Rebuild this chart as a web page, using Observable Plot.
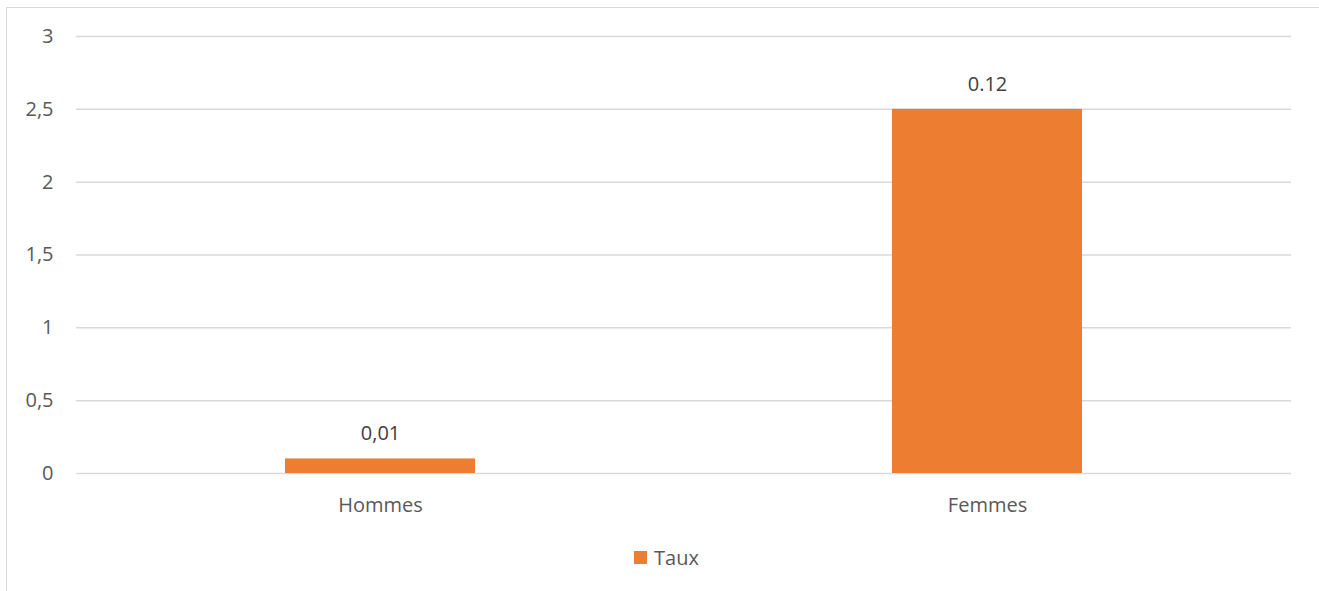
<!DOCTYPE html>
<html>
<head>
<meta charset="utf-8">
<script src="https://cdn.jsdelivr.net/npm/d3@7"></script>
<script src="https://cdn.jsdelivr.net/npm/@observablehq/plot@0.6"></script>
<style>
  html, body { margin: 0; padding: 0; background: #fff; width: 1319px; height: 591px; overflow: hidden; }
  #frame { position: absolute; left: 6px; top: 7px; width: 1400px; height: 700px;
           border-left: 1.5px solid #d9d9d9; border-top: 1.5px solid #d9d9d9; box-sizing: border-box; }
  #chart { position: absolute; left: 0; top: 0; }
  #legend { position: absolute; left: 0; top: 530px; width: 1319px; height: 55px;
            display: flex; justify-content: center; align-items: center; padding-left: 14px; box-sizing: border-box;
            font-family: "Open Sans", sans-serif; font-size: 20px; color: #595959; }
  #legend .sw { display: inline-block; width: 13px; height: 13px; background: #ED7D31; margin-right: 7px; }
</style>
</head>
<body>
<div id="frame"></div>
<div id="chart"></div>
<div id="legend"><span class="sw"></span><span>Taux</span></div>
<script>
const categories = ["Hommes", "Femmes"];
const values = [0.1, 2.5];
const valueLabels = ["0,01", "0.12"];
const seriesName = "Taux";
const yTicks = [0, 0.5, 1, 1.5, 2, 2.5, 3];
const yTickLabels = ["0", "0,5", "1", "1,5", "2", "2,5", "3"];

const data = categories.map((c, i) => ({category: c, value: values[i], label: valueLabels[i]}));

const chart = Plot.plot({
  width: 1319,
  height: 530,
  marginLeft: 76,
  marginRight: 28,
  marginTop: 36,
  marginBottom: 57,
  style: {fontFamily: "'Open Sans', sans-serif", fontSize: "20px", color: "#595959", background: "transparent"},
  x: {domain: categories, paddingInner: 0.6875, paddingOuter: 0.34375, label: null},
  y: {domain: [0, 3], label: null},
  marks: [
    Plot.gridY(yTicks, {stroke: "#d9d9d9", strokeOpacity: 1, strokeWidth: 1.5}),
    Plot.barY(data, {x: "category", y: "value", fill: "#ED7D31"}),
    Plot.text(data, {x: "category", y: "value", text: "label", dy: -25, lineAnchor: "middle", fill: "#404040", fontSize: 20}),
    Plot.axisY({ticks: yTicks, tickFormat: (d) => yTickLabels[yTicks.indexOf(d)], tickSize: 0, tickPadding: 23, label: null, fontSize: 20}),
    Plot.axisX({tickSize: 0, tickPadding: 24, label: null, fontSize: 20})
  ]
});
document.getElementById("chart").appendChild(chart);
</script>
</body>
</html>
